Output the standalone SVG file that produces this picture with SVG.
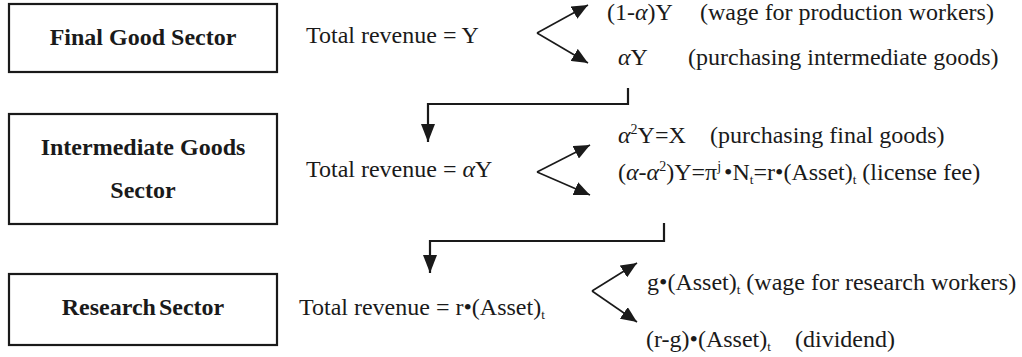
<svg xmlns="http://www.w3.org/2000/svg" width="1022" height="357" viewBox="0 0 1022 357">
<style>
.box{fill:#fff;stroke:#1a1a1a;stroke-width:2.2}
.bt{font-family:"Liberation Serif","Times New Roman",serif;font-weight:bold;font-size:24px;fill:#1a1a1a;text-anchor:middle}
.t{font-family:"Liberation Serif","Times New Roman",serif;font-size:24px;fill:#1a1a1a}
.a{font-style:italic}
.sup{font-size:14px}
.sub{font-size:13px}
.fork{fill:none;stroke:#1a1a1a;stroke-width:1.6;marker-end:url(#ah)}
.conn{fill:none;stroke:#1a1a1a;stroke-width:2.2;marker-end:url(#ad)}
</style>
<defs>
<marker id="ah" markerUnits="userSpaceOnUse" markerWidth="16" markerHeight="14" viewBox="0 0 16 14" refX="16" refY="7" orient="auto"><path d="M0,0 L16,7 L0,14 z" fill="#1a1a1a"/></marker>
<marker id="ad" markerUnits="userSpaceOnUse" markerWidth="18" markerHeight="14" viewBox="0 0 18 14" refX="18" refY="7" orient="auto"><path d="M0,0 L18,7 L0,14 z" fill="#1a1a1a"/></marker>
</defs>
<rect width="1022" height="357" fill="#fff"/>
<g id="final-good">
<rect class="box" x="9" y="4" width="268" height="68"/>
<text class="bt" x="143" y="45">Final Good Sector</text>
</g>
<g id="intermediate">
<rect class="box" x="9" y="114" width="268" height="110"/>
<text class="bt" x="143" y="155">Intermediate Goods</text>
<text class="bt" x="143" y="198">Sector</text>
</g>
<g id="research">
<rect class="box" x="9" y="274" width="268" height="71"/>
<text class="bt" x="143" y="315">Research<tspan dx="3">Sector</tspan></text>
</g>
<g id="row1-text">
<text class="t" x="306" y="43">Total revenue = Y</text>
<text class="t" x="607" y="20">(1-<tspan class="a">α</tspan>)Y</text>
<text class="t" x="700" y="20">(wage for production workers)</text>
<text class="t" x="618" y="65"><tspan class="a">α</tspan>Y</text>
<text class="t" x="688" y="65">(purchasing intermediate goods)</text>
</g>
<g id="row2-text">
<text class="t" x="306" y="177">Total revenue = <tspan class="a">α</tspan>Y</text>
<text class="t" x="618" y="143"><tspan class="a">α</tspan><tspan class="sup" dy="-9">2</tspan><tspan dy="9">Y=X</tspan></text>
<text class="t" x="710" y="143">(purchasing final goods)</text>
<text class="t" x="618" y="180">(<tspan class="a">α</tspan>-<tspan class="a">α</tspan><tspan class="sup" dy="-9">2</tspan><tspan dy="9">)Y=π</tspan><tspan class="sup" dy="-9">j</tspan><tspan dy="9" dx="3">•N</tspan><tspan class="sub" dy="4">t</tspan><tspan dy="-4">=r•(Asset)</tspan><tspan class="sub" dy="4">t</tspan><tspan dy="-4"> (license fee)</tspan></text>
</g>
<g id="row3-text">
<text class="t" x="299" y="315">Total revenue = r•(Asset)<tspan class="sub" dy="4">t</tspan></text>
<text class="t" x="647" y="290">g•(Asset)<tspan class="sub" dy="4">t</tspan><tspan dy="-4"> (wage for research workers)</tspan></text>
<text class="t" x="646" y="347">(r-g)•(Asset)<tspan class="sub" dy="4">t</tspan></text>
<text class="t" x="795" y="347">(dividend)</text>
</g>
<g id="connectors">
<path class="fork" d="M537,33 L588,5"/>
<path class="fork" d="M537,33 L588,63"/>
<path class="fork" d="M537,172 L590,145"/>
<path class="fork" d="M537,172 L590,195"/>
<path class="fork" d="M592,291 L637,263"/>
<path class="fork" d="M592,291 L637,322"/>
<path class="conn" d="M628,88 V104 H428 V142"/>
<path class="conn" d="M664,223 V241 H430 V273"/>
</g>
</svg>
